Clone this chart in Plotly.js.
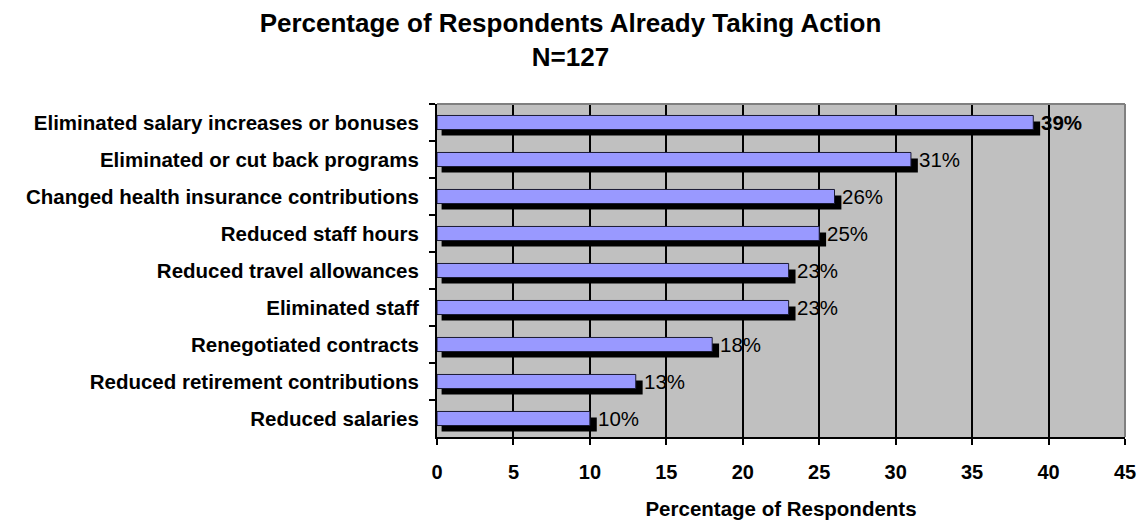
<!DOCTYPE html>
<html>
<head>
<meta charset="utf-8">
<script src="https://cdn.plot.ly/plotly-3.0.1.min.js"></script>
<style>html,body{margin:0;padding:0;background:#fff;}#chart{width:1141px;height:521px;}</style>
</head>
<body>
<div id="chart"></div>
<script>
const categories = [
  "Eliminated salary increases or bonuses",
  "Eliminated or cut back programs",
  "Changed health insurance contributions",
  "Reduced staff hours",
  "Reduced travel allowances",
  "Eliminated staff",
  "Renegotiated contracts",
  "Reduced retirement contributions",
  "Reduced salaries"
];
const values = [39, 31, 26, 25, 23, 23, 18, 13, 10];
const labels = ["<b>39%</b>", "31%", "26%", "25%", "23%", "23%", "18%", "13%", "10%"];
const xTicks = [0, 5, 10, 15, 20, 25, 30, 35, 40, 45];

const FONT = "Liberation Sans, Arial, sans-serif";
const shadowDX = 0.3;   // depth offset (x units)
const shadowExtra = 0.15;

const shadow = {
  type: "bar", orientation: "h",
  y: categories,
  x: values.map(v => v + shadowExtra),
  base: values.map(() => shadowDX),
  width: 0.38, offset: -0.03,
  marker: {color: "#000000", line: {width: 0}},
  hoverinfo: "skip"
};
const bars = {
  type: "bar", orientation: "h",
  y: categories,
  x: values,
  width: 0.38, offset: -0.19,
  marker: {color: "#9999FF", line: {color: "#1a1a33", width: 1}},
  hoverinfo: "x+y"
};

const annotations = values.map((v, i) => ({
  x: v + shadowDX + shadowExtra, y: categories[i],
  xref: "x", yref: "y",
  text: labels[i], showarrow: false,
  xanchor: "left", yanchor: "middle", xshift: -1,
  font: {family: FONT, size: 20.5, color: "#000"}
}));

const layout = {
  width: 1141, height: 521,
  margin: {l: 437, r: 16, t: 104, b: 84},
  paper_bgcolor: "#ffffff",
  plot_bgcolor: "#C0C0C0",
  barmode: "overlay",
  showlegend: false,
  title: {
    text: "<b>Percentage of Respondents Already Taking Action<br>N=127</b>",
    x: 0.5, xanchor: "center", y: 0.9386, yanchor: "top",
    font: {family: FONT, size: 26, color: "#000"}
  },
  xaxis: {
    range: [0, 45], tickvals: xTicks, ticktext: xTicks.map(String),
    showgrid: true, gridcolor: "#000000", gridwidth: 2,
    zeroline: false,
    showline: true, linecolor: "#000000", linewidth: 2,
    ticks: "outside", ticklen: 6, tickwidth: 2, tickcolor: "#000",
    ticklabelstandoff: 10,
    tickfont: {family: FONT, size: 20, color: "#000", weight: "bold"},
    title: {text: "<b>Percentage of Respondents</b>", standoff: 20,
            font: {family: FONT, size: 20.5, color: "#000"}},
    mirror: false, fixedrange: true
  },
  yaxis: {
    type: "category", autorange: "reversed",
    tickson: "boundaries",
    ticks: "outside", ticklen: 6, tickwidth: 2, tickcolor: "#000",
    showgrid: false, zeroline: false,
    showline: true, linecolor: "#000000", linewidth: 2,
    tickfont: {family: FONT, size: 20.5, color: "#000", weight: "bold"},
    ticklabelstandoff: 12,
    fixedrange: true
  },
  shapes: [
    {type: "line", xref: "paper", yref: "paper", x0: 0, x1: 1, y0: 1, y1: 1,
     line: {color: "#808080", width: 2}},
    {type: "line", xref: "paper", yref: "paper", x0: 1, x1: 1, y0: 0, y1: 1,
     line: {color: "#808080", width: 2}}
  ],
  annotations: annotations
};

Plotly.newPlot("chart", [shadow, bars], layout, {displayModeBar: false, staticPlot: true});
</script>
</body>
</html>
